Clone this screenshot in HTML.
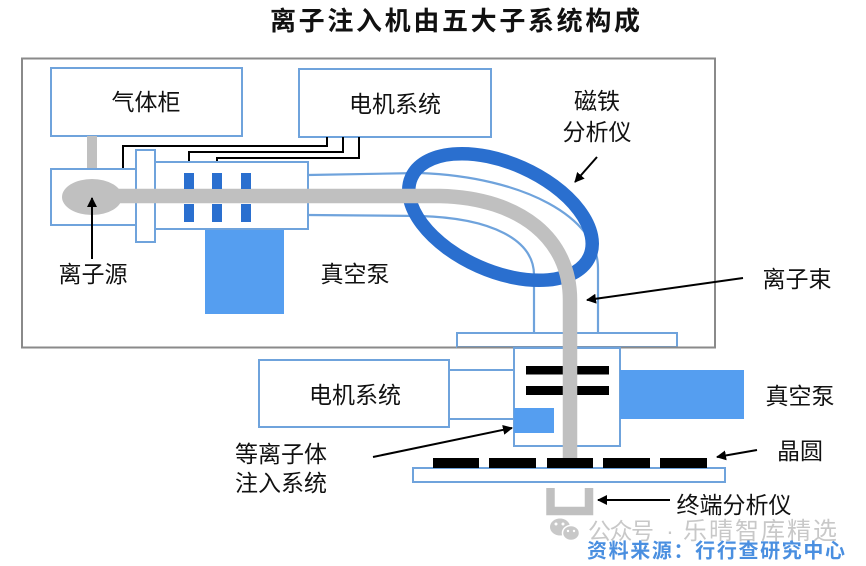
<!DOCTYPE html>
<html><head><meta charset="utf-8"><style>
html,body{margin:0;padding:0;background:#fff;}
svg{display:block;}
text{font-family:"Liberation Sans","Noto Sans CJK SC",sans-serif;}
</style></head><body>
<svg width="866" height="566" viewBox="0 0 866 566" xmlns="http://www.w3.org/2000/svg">
<defs>
<marker id="ah" markerWidth="10" markerHeight="10" refX="9" refY="5" orient="auto" markerUnits="userSpaceOnUse">
<path d="M0,0 L10,5 L0,10 z" fill="#000"/>
</marker>
</defs>
<!-- title -->
<text x="270" y="30" font-size="26" font-weight="bold" textLength="370" lengthAdjust="spacing" fill="#111">离子注入机由五大子系统构成</text>

<!-- outer gray box -->
<rect x="22" y="58.5" width="693" height="289" fill="none" stroke="#8a8a8a" stroke-width="2"/>

<!-- top boxes -->
<rect x="51" y="68" width="191" height="68" fill="#fff" stroke="#6fa3dc" stroke-width="2"/>
<rect x="299" y="69" width="192" height="68" fill="#fff" stroke="#6fa3dc" stroke-width="2"/>

<!-- gas pipe -->
<rect x="87" y="136" width="10" height="60" fill="#c0c0c0"/>

<!-- wires -->
<g fill="none" stroke="#000" stroke-width="2">
<path d="M123,169 L123,146 L327,146 L327,137"/>
<path d="M189,173 L189,152 L343,152 L343,137"/>
<path d="M217,173 L217,158 L359,158 L359,137"/>
</g>

<!-- ion source box -->
<rect x="51" y="169" width="85" height="56" fill="#fff" stroke="#6fa3dc" stroke-width="2"/>
<!-- accel box -->
<rect x="155" y="162" width="153" height="67" fill="#fff" stroke="#6fa3dc" stroke-width="2"/>
<!-- flange -->
<rect x="136" y="150" width="19" height="92" fill="#fff" stroke="#6fa3dc" stroke-width="2"/>
<!-- vacuum pump left -->
<rect x="205" y="230" width="79" height="84" fill="#559ef0"/>

<!-- thin beam tube lines -->
<g fill="none" stroke="#6fa3dc" stroke-width="2.2">
<path d="M308,175 L420,173 C525,177 598,218 598,268 L598,333"/>
<path d="M308,215 L420,216 C492,218 534,240 534,275 L534,333"/>
</g>

<!-- plate -->
<rect x="457" y="333" width="220" height="14" fill="#fff" stroke="#6fa3dc" stroke-width="2"/>
<line x1="457" y1="347.5" x2="715" y2="347.5" stroke="#8a8a8a" stroke-width="2"/>

<!-- magnet ring -->
<ellipse cx="500.5" cy="217" rx="97.5" ry="54" transform="rotate(24 500.5 217)" fill="none" stroke="#2a6fcf" stroke-width="13.5"/>

<!-- lower motor box and connectors -->
<rect x="259" y="360" width="190" height="67" fill="#fff" stroke="#6fa3dc" stroke-width="2"/>
<line x1="449" y1="370" x2="514" y2="370" stroke="#6fa3dc" stroke-width="2"/>
<line x1="449" y1="419" x2="514" y2="419" stroke="#6fa3dc" stroke-width="2"/>
<!-- chamber -->
<rect x="514" y="348" width="106" height="98" fill="#fff" stroke="#6fa3dc" stroke-width="2"/>
<rect x="514" y="408" width="40" height="25" fill="#559ef0"/>
<rect x="526" y="366" width="83" height="8.5" fill="#000"/>
<rect x="526" y="386" width="83" height="9" fill="#000"/>
<!-- right pump -->
<rect x="620" y="370" width="124" height="49" fill="#559ef0"/>

<!-- beam -->
<ellipse cx="92" cy="197" rx="30" ry="18" fill="#c0c0c0"/>
<path d="M95,196 L440,196 C522,198 570,240 570,300 L570,459" fill="none" stroke="#c0c0c0" stroke-width="14.5"/>

<!-- electrodes -->
<g fill="#2a6fcf">
<rect x="184" y="173" width="10" height="16"/>
<rect x="212" y="173" width="10" height="16"/>
<rect x="241" y="173" width="10" height="16"/>
<rect x="184" y="204" width="10" height="18"/>
<rect x="212" y="204" width="10" height="18"/>
<rect x="241" y="204" width="10" height="18"/>
</g>

<!-- wafer plate and wafers -->
<rect x="413" y="468" width="312" height="14" fill="#fff" stroke="#6fa3dc" stroke-width="2"/>
<g fill="#000">
<rect x="433" y="458" width="46" height="10"/>
<rect x="489" y="458" width="47" height="10"/>
<rect x="547" y="458" width="46" height="10"/>
<rect x="603" y="458" width="47" height="10"/>
<rect x="660" y="458" width="47" height="10"/>
</g>

<!-- terminal analyzer -->
<path d="M550.5,488 L550.5,511 L589,511 L589,488" fill="none" stroke="#c0c0c0" stroke-width="8.5"/>

<!-- arrows -->
<g stroke="#000" stroke-width="2" fill="none" marker-end="url(#ah)">
<line x1="92" y1="259" x2="92" y2="198"/>
<line x1="597" y1="157" x2="575" y2="182"/>
<line x1="743" y1="278" x2="587" y2="300"/>
<line x1="373" y1="457" x2="512" y2="428"/>
<line x1="757" y1="450" x2="717" y2="457"/>
<line x1="670" y1="500" x2="598" y2="500"/>
</g>

<!-- labels -->
<g font-size="23" fill="#111">
<text x="146" y="110" text-anchor="middle">气体柜</text>
<text x="395" y="112" text-anchor="middle">电机系统</text>
<text x="597" y="109" text-anchor="middle">磁铁</text>
<text x="597" y="140" text-anchor="middle">分析仪</text>
<text x="93" y="282" text-anchor="middle">离子源</text>
<text x="355" y="282" text-anchor="middle">真空泵</text>
<text x="797" y="287" text-anchor="middle">离子束</text>
<text x="355" y="403" text-anchor="middle">电机系统</text>
<text x="800" y="404" text-anchor="middle">真空泵</text>
<text x="800" y="459" text-anchor="middle">晶圆</text>
<text x="281" y="462" text-anchor="middle">等离子体</text>
<text x="281" y="491" text-anchor="middle">注入系统</text>
<text x="734" y="513" text-anchor="middle">终端分析仪</text>
</g>

<!-- watermark -->
<g fill="#c8c8c8">
<ellipse cx="560" cy="527" rx="10" ry="8.5"/>
<ellipse cx="571" cy="533" rx="8.5" ry="7.5" stroke="#fff" stroke-width="1.5"/>
</g>
<g fill="#fff">
<circle cx="556" cy="524" r="1.5"/><circle cx="563" cy="524" r="1.5"/>
<circle cx="568" cy="531" r="1.2"/><circle cx="574" cy="531" r="1.2"/>
</g>
<text x="588" y="539" font-size="23" fill="#c8c8c8" textLength="66" lengthAdjust="spacing">公众号</text>
<text x="670" y="539" font-size="23" fill="#c8c8c8" text-anchor="middle">·</text>
<text x="683" y="539" font-size="24" fill="#c8c8c8" textLength="154" lengthAdjust="spacing">乐晴智库精选</text>
<text x="587" y="557.5" font-size="20" font-weight="bold" fill="#4a8fe0" textLength="258" lengthAdjust="spacing">资料来源：行行查研究中心</text>
</svg>
</body></html>
